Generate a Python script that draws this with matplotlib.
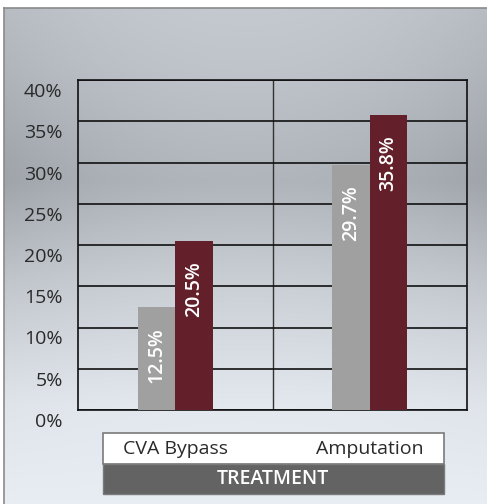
import numpy as np
import matplotlib.pyplot as plt
from matplotlib.patches import Rectangle
from matplotlib.transforms import ScaledTranslation
import matplotlib.transforms as mtransforms

plt.rcParams['font.family'] = ['Open Sans', 'DejaVu Sans']

# data
categories = ['CVA Bypass', 'Amputation']
series_a = [12.5, 29.7]   # gray
series_b = [20.5, 35.8]   # dark red
yticks = [0, 5, 10, 15, 20, 25, 30, 35, 40]
axis_title = 'TREATMENT'

W, H = 487, 504
fig = plt.figure(figsize=(W / 100, H / 100), dpi=100)
fig.patch.set_facecolor('white')

# background panel with gradient
bg = fig.add_axes([4 / W, 0, (W - 4) / W, (H - 8) / H], zorder=0)
rows = np.linspace(0, 1, 200)
stops_y = [0.0, 0.12, 0.35, 0.55, 0.8, 1.0]
stops_c = [0.80, 0.78, 0.72, 0.82, 0.92, 0.94]
vert = np.interp(rows, stops_y, stops_c)
cols = np.linspace(-1, 1, 200)
side = (cols ** 2)[None, :] * np.interp(rows, [0, 0.3, 0.6, 1], [0.05, 0.07, 0.03, 0.0])[:, None]
lum = vert[:, None] - side
img = np.dstack([lum - 0.03, lum - 0.01, lum + 0.015])
bg.imshow(np.clip(img, 0, 1), aspect='auto', extent=[0, 1, 0, 1], origin='upper', interpolation='bilinear')
bg.set_xticks([])
bg.set_yticks([])
for s in ['right', 'bottom']:
    bg.spines[s].set_visible(False)
for s in ['left', 'top']:
    bg.spines[s].set_color('#8a8a8a')
    bg.spines[s].set_linewidth(1.2)

# category box below the axes
box = fig.add_axes([0, 0, 1, 1], zorder=1)
box.set_xlim(0, W)
box.set_ylim(H, 0)
box.axis('off')
box.add_patch(Rectangle((103, 433), 341, 31, facecolor='white', edgecolor='#7a7a7a', linewidth=1.2))
box.add_patch(Rectangle((103, 464), 341, 30, facecolor='#636363', edgecolor='#7a7a7a', linewidth=1.0))
box.text(273, 479, axis_title, ha='center', va='center', fontsize=14,
         color='white', fontweight='semibold')

# main axes
ax = fig.add_axes([78 / W, (H - 410) / H, (467 - 78) / W, (410 - 80) / H], zorder=2)
ax.patch.set_alpha(0)
x = np.arange(len(categories))
bw = 0.193
ax.bar(x - bw / 2, series_a, width=bw, color='#a0a0a0', zorder=3)
ax.bar(x + bw / 2, series_b, width=bw, color='#64202a', zorder=3)

ax.set_xlim(-0.5, 1.5)
ax.set_ylim(0, 40)
ax.set_yticks(yticks)
ax.set_yticklabels([f'{t}%' for t in yticks], fontsize=14, color='#2a2a2a')
ax.tick_params(axis='y', length=0, pad=11)
ax.set_xticks([])
for lab in ax.get_yticklabels():
    lab.set_transform(lab.get_transform() + ScaledTranslation(0, -0.10, fig.dpi_scale_trans))
ax.grid(axis='y', color='#111111', linewidth=1.2, zorder=1)
ax.axvline(0.5, color='#333333', linewidth=1.0, zorder=1)
for s in ax.spines.values():
    s.set_color('#111111')
    s.set_linewidth(1.2)

for xs, vals in [(x - bw / 2, series_a), (x + bw / 2, series_b)]:
    for xi, v in zip(xs, vals):
        ax.annotate(f'{v}%', (xi, v), xytext=(0, -15), textcoords='offset points',
                    rotation=90, ha='center', va='top', color='white',
                    fontsize=14, fontweight='semibold', zorder=4)

trans = mtransforms.blended_transform_factory(ax.transData, fig.transFigure)
for i, c in enumerate(categories):
    ax.text(i, (H - 449) / H, c, transform=trans, ha='center', va='center',
            fontsize=14, color='#2a2a2a')

fig.savefig('out.png', dpi=100)
